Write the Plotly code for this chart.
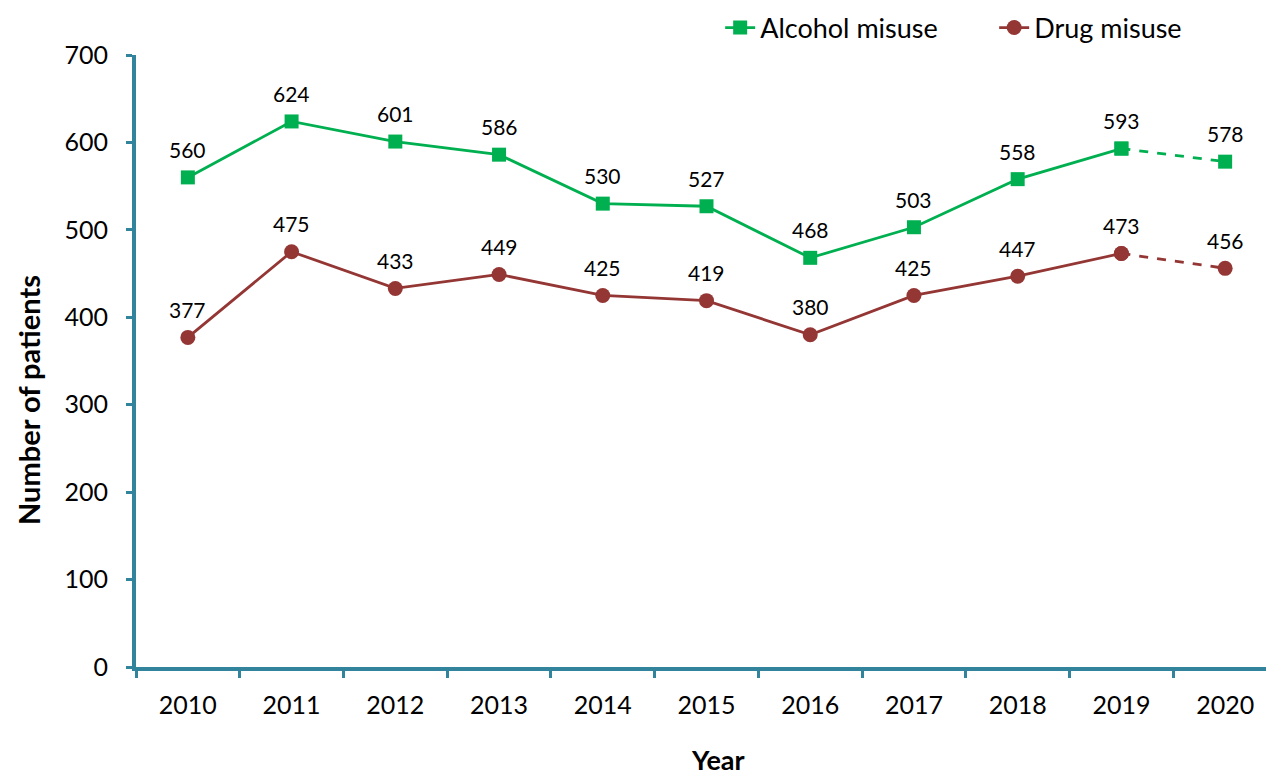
import plotly.graph_objects as go

years = ["2010", "2011", "2012", "2013", "2014", "2015", "2016", "2017", "2018", "2019", "2020"]
alcohol = [560, 624, 601, 586, 530, 527, 468, 503, 558, 593, 578]
drug = [377, 475, 433, 449, 425, 419, 380, 425, 447, 473, 456]

GREEN = "#00B050"
RED = "#943634"
AXIS = "#31849B"
FONT = "Lato"

L, R, T, B = 128, 5, 47, 117
PW = 1274 - L - R
PH = 776 - T - B

fig = go.Figure()

def add_series(name, vals, color, symbol, size):
    # solid part
    fig.add_trace(go.Scatter(
        x=years[:-1], y=vals[:-1], mode="lines+markers", name=name,
        line=dict(color=color, width=2.8),
        marker=dict(symbol=symbol, size=size, color=color)))
    # dashed projection segment (last two points)
    fig.add_trace(go.Scatter(
        x=years[-2:], y=vals[-2:], mode="lines+markers",
        line=dict(color=color, width=2.8, dash="dash"),
        marker=dict(symbol=symbol, size=size, color=color),
        showlegend=False))
    for i, yv in enumerate(vals):
        fig.add_annotation(x=i, y=yv, text=str(yv), showarrow=False,
                           yshift=28, font=dict(family=FONT, size=21, color="#000000"))

add_series("Alcohol misuse", alcohol, GREEN, "square", 14)
add_series("Drug misuse", drug, RED, "circle", 15)

fig.update_layout(
    width=1274, height=776,
    margin=dict(l=L, r=R, t=T, b=B, autoexpand=False),
    paper_bgcolor="white", plot_bgcolor="white",
    font=dict(family=FONT, size=24, color="#000000"),
    showlegend=True,
    legend=dict(orientation="h", xref="container", yref="container",
                x=0.559, y=1 - 20 / 776, xanchor="left", yanchor="middle",
                font=dict(family=FONT, size=27), entrywidth=229,
                bgcolor="rgba(0,0,0,0)"),
)

fig.update_xaxes(
    type="category", categoryorder="array", categoryarray=years, range=[-0.5, 10.5],
    showline=True, linecolor=AXIS, linewidth=4,
    ticks="outside", tickson="boundaries", ticklen=7, tickwidth=3, tickcolor=AXIS,
    showgrid=False, zeroline=False,
    tickfont=dict(family=FONT, size=25), ticklabelstandoff=13,
)
fig.update_yaxes(
    range=[0, 700], dtick=100,
    showline=True, linecolor=AXIS, linewidth=4,
    ticks="outside", ticklen=6, tickwidth=3, tickcolor=AXIS,
    showgrid=False, zeroline=False,
    tickfont=dict(family=FONT, size=25), ticklabelstandoff=13,
)

fig.add_annotation(xref="paper", yref="paper", x=(710 - L) / PW, y=(T + PH - 752) / PH,
                   text="<b>Year</b>", showarrow=False,
                   font=dict(family=FONT, size=27), xanchor="center", yanchor="middle")
fig.add_annotation(xref="paper", yref="paper", x=(20 - L) / PW, y=(T + PH - 392) / PH,
                   text="<b>Number of patients</b>", showarrow=False, textangle=-90,
                   font=dict(family=FONT, size=29), xanchor="center", yanchor="middle")

fig.write_html("out.html")
